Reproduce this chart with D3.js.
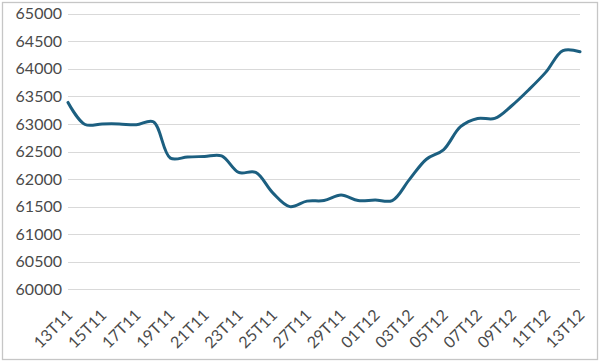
<!DOCTYPE html>
<html><head><meta charset="utf-8">
<script src="https://cdn.jsdelivr.net/npm/d3@7"></script>
<style>body{margin:0;background:#fff}svg{display:block}</style>
</head><body>
<svg id="c" width="601" height="362"></svg>
<script>
const categories = ["13T11","14T11","15T11","16T11","17T11","18T11","19T11","20T11","21T11","22T11","23T11","24T11","25T11","26T11","27T11","28T11","29T11","30T11","01T12","02T12","03T12","04T12","05T12","06T12","07T12","08T12","09T12","10T12","11T12","12T12","13T12"];
const values = [63390,62990,63000,63000,62985,63040,62380,62400,62410,62420,62120,62120,61750,61500,61600,61610,61710,61610,61620,61610,61990,62360,62530,62950,63100,63100,63330,63620,63940,64330,64310];
const yTicks = [60000,60500,61000,61500,62000,62500,63000,63500,64000,64500,65000];
const xLabels = categories.filter((d,i)=>i%2===0);

const svg = d3.select("#c");
const L = 68, R = 580, T = 13.7, B = 289.3;
const x = d3.scalePoint().domain(categories).range([L,R]).padding(0);
const y = d3.scaleLinear().domain([60000,65000]).range([B,T]);

svg.append("rect").attr("x",2.5).attr("y",2.5).attr("width",595).attr("height",357)
  .attr("fill","#fff").attr("stroke","#c6c6c6").attr("stroke-width",1.3);

// gridlines
svg.append("g").selectAll("line").data(yTicks).join("line")
  .attr("x1",L).attr("x2",R).attr("y1",d=>Math.round(y(d))+0.5).attr("y2",d=>Math.round(y(d))+0.5)
  .attr("stroke","#d9d9d9").attr("stroke-width",1);

// y axis labels
const ya = svg.append("g").attr("transform",`translate(${L},0)`)
  .call(d3.axisLeft(y).tickValues(yTicks).tickSize(0).tickPadding(6).tickFormat(d3.format("d")));
ya.select(".domain").remove();
ya.selectAll("text").attr("font-family","Lato, 'Open Sans', sans-serif").attr("font-size","16px").attr("fill","#4a4a4a");

// x axis labels
const xa = svg.append("g").attr("transform",`translate(0,${B})`)
  .call(d3.axisBottom(x).tickValues(xLabels).tickSize(0).tickPadding(0));
xa.select(".domain").remove();
xa.selectAll("text").attr("font-family","Lato, 'Open Sans', sans-serif").attr("font-size","16px").attr("fill","#4a4a4a")
  .attr("text-anchor","end").attr("dy","0").attr("y",0)
  .attr("transform","translate(5,27) rotate(-45)");

// line
const line = d3.line().x((d,i)=>x(categories[i])).y(d=>y(d)).curve(d3.curveCatmullRom.alpha(0.5));
svg.append("path").datum(values).attr("d",line).attr("fill","none")
  .attr("stroke","#1c5f80").attr("stroke-width",3).attr("stroke-linejoin","round").attr("stroke-linecap","round");
</script>
</body></html>
